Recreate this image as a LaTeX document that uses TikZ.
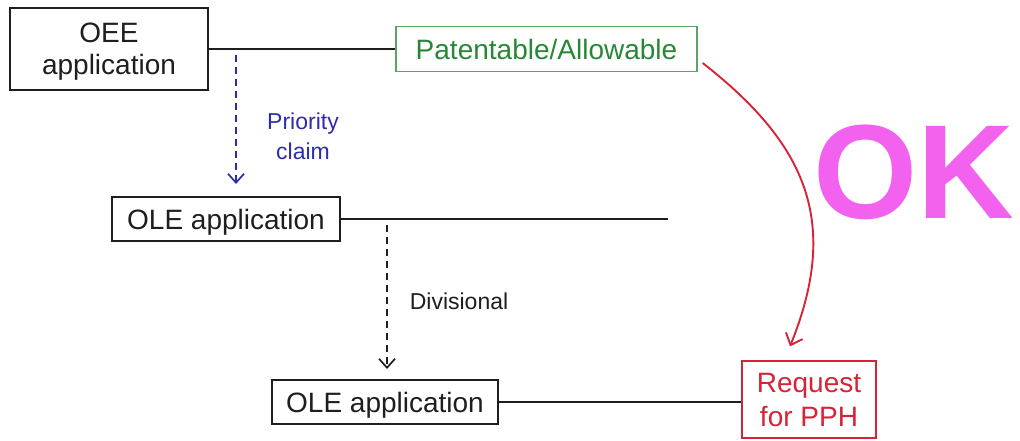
\documentclass[tikz,border=0pt]{standalone}
\usepackage{fontspec}
\setmainfont{Liberation Sans}
\usetikzlibrary{arrows.meta}
\definecolor{txtgreen}{RGB}{40,135,55}
\definecolor{boxgreen}{RGB}{90,165,100}
\definecolor{pphred}{RGB}{215,35,55}
\definecolor{prioblue}{RGB}{45,45,170}
\definecolor{okmag}{RGB}{242,98,238}
\definecolor{ink}{RGB}{30,30,30}
\tikzset{
  appbox/.style={draw=ink, line width=2pt, inner sep=0pt, align=center, text=ink,
    text depth=0pt, font=\fontsize{28}{32}\selectfont},
  thinbox/.style={draw, line width=1.3pt, inner sep=0pt, align=center,
    text depth=0pt, font=\fontsize{28}{34}\selectfont},
  label/.style={inner sep=0pt, align=center, font=\fontsize{23}{30}\selectfont},
  link/.style={draw=ink, line width=2pt},
  dasharrow/.style={line width=1.7pt, dash pattern=on 7pt off 5pt,
    -{Straight Barb[length=9pt,width=16pt,line width=1.7pt]}},
}
\begin{document}
\begin{tikzpicture}[x=1pt,y=-1pt]
\useasboundingbox (0,0) rectangle (1020,441);
% boxes
\node[appbox, minimum width=198pt, minimum height=82pt] (oee) at (109,49) {OEE\\application};
\node[thinbox, draw=boxgreen, text=txtgreen, minimum width=301pt, minimum height=45pt] (pat) at (546.5,49) {Patentable/Allowable};
\node[appbox, minimum width=228pt, minimum height=44pt] (ole1) at (226,219) {OLE application};
\node[appbox, minimum width=226pt, minimum height=44pt] (ole2) at (385,402) {OLE application};
\node[thinbox, draw=pphred, text=pphred, minimum width=134pt, minimum height=77pt] (req) at (809,399.5) {Request\\for PPH};
% labels
\node[label, text=prioblue] (prio) at (303,136) {Priority\\claim};
\node[label, text=ink] (div) at (459,301) {Divisional};
\node[inner sep=0pt, anchor=west, text=okmag, font=\fontsize{134}{140}\selectfont\bfseries] (ok) at (813,172) {OK};
% lines
\coordinate (ole1end) at (668,219);
\draw[link] (oee.east) -- (pat.west);
\draw[link] (ole1.east) -- (ole1end);
\draw[link] (ole2.east) -- (ole2.east -| req.west);
% dashed arrows
\coordinate (pstart) at (236,55);
\coordinate (dstart) at (387,225);
\draw[dasharrow, prioblue] (pstart) -- ([yshift=12pt]ole1.north -| pstart);
\draw[dasharrow, ink] (dstart) -- ([yshift=10pt]ole2.north -| dstart);
% red curved arrow
\draw[pphred, line width=1.9pt, -{Straight Barb[length=10pt,width=18pt,line width=1.9pt]}]
  ([xshift=5pt,yshift=-14pt]pat.east) to[out=-38, in=68, looseness=1.15] ([xshift=-19pt,yshift=14pt]req.north);
\end{tikzpicture}
\end{document}
